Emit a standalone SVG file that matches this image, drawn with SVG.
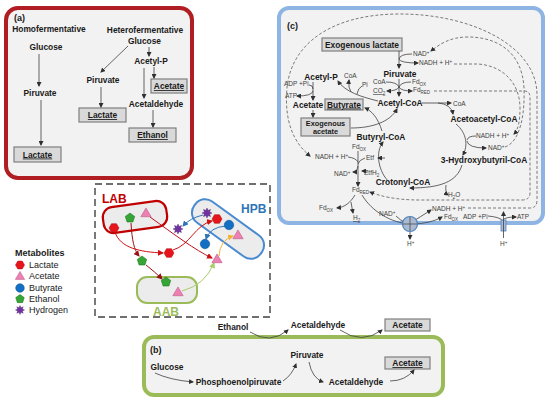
<svg xmlns="http://www.w3.org/2000/svg" width="550" height="404" viewBox="0 0 550 404">
<defs>
<style>
text{font-family:"Liberation Sans",Arial,sans-serif}
.t{font-weight:bold;font-size:8.4px;fill:#1a1a1a;text-anchor:middle}
.s{font-size:6.5px;fill:#404040}
.lb{font-weight:bold;font-size:9px;fill:#1a1a1a}
.lg{font-size:9px;fill:#1a1a1a}
.box{fill:#d9d9d9;stroke:#7f7f7f;stroke-width:1.2}
.ln{fill:none;stroke:#404040;stroke-width:0.8}
.lna{fill:none;stroke:#404040;stroke-width:0.8;marker-end:url(#ah)}
.dsh{fill:none;stroke:#5a5a5a;stroke-width:0.8;stroke-dasharray:3 2;marker-end:url(#ah)}
.panel{fill:#f2f2f2}
</style>
<marker id="ah" markerWidth="5" markerHeight="5" refX="4" refY="2.5" orient="auto" markerUnits="userSpaceOnUse"><path d="M0,0 L5,2.5 L0,5 z" fill="#303030"/></marker>
<marker id="ahR" markerWidth="6" markerHeight="6" refX="5" refY="3" orient="auto" markerUnits="userSpaceOnUse"><path d="M0,0 L6,3 L0,6 z" fill="#d01010"/></marker>
<marker id="ahD" markerWidth="6" markerHeight="6" refX="5" refY="3" orient="auto" markerUnits="userSpaceOnUse"><path d="M0,0 L6,3 L0,6 z" fill="#9a1010"/></marker>
<marker id="ahB" markerWidth="6" markerHeight="6" refX="5" refY="3" orient="auto" markerUnits="userSpaceOnUse"><path d="M0,0 L6,3 L0,6 z" fill="#2e75b6"/></marker>
<marker id="ahO" markerWidth="6" markerHeight="6" refX="5" refY="3" orient="auto" markerUnits="userSpaceOnUse"><path d="M0,0 L6,3 L0,6 z" fill="#f0b233"/></marker>
<marker id="ahG" markerWidth="6" markerHeight="6" refX="5" refY="3" orient="auto" markerUnits="userSpaceOnUse"><path d="M0,0 L6,3 L0,6 z" fill="#a6cf6a"/></marker>
<polygon id="hex" points="4.5,0 2.25,3.9 -2.25,3.9 -4.5,0 -2.25,-3.9 2.25,-3.9" fill="#e8141b" stroke="#a80d12" stroke-width="0.5"/>
<polygon id="tri" points="0,-4.6 4.7,3.4 -4.7,3.4" fill="#ee7fb3" stroke="#b8557f" stroke-width="0.5"/>
<circle id="cir" r="4.3" fill="#1370c4" stroke="#0d4f8e" stroke-width="0.5"/>
<polygon id="pen" points="0,-4.5 4.28,-1.39 2.65,3.64 -2.65,3.64 -4.28,-1.39" fill="#35a535" stroke="#1c701c" stroke-width="0.5"/>
<polygon id="star" points="4.5,0 2.31,0.96 3.18,3.18 0.96,2.31 0,4.5 -0.96,2.31 -3.18,3.18 -2.31,0.96 -4.5,0 -2.31,-0.96 -3.18,-3.18 -0.96,-2.31 0,-4.5 0.96,-2.31 3.18,-3.18 2.31,-0.96" fill="#7030a0" stroke="#4b1f6e" stroke-width="0.4"/>
</defs>
<rect width="550" height="404" fill="#ffffff"/>

<!-- ===== Panel (a) ===== -->
<g id="panel-a">
<rect x="6" y="8" width="186" height="170" rx="12" class="panel" stroke="#b01e23" stroke-width="4"/>
<text class="lb" x="14" y="21">(a)</text>
<g id="a-homo"><text class="t" x="49" y="32">Homofermentative</text></g>
<g id="a-glucose1"><text class="t" x="46" y="50">Glucose</text></g>
<g id="a-piruvate1"><text class="t" x="40" y="96">Piruvate</text></g>
<g id="a-lactate1"><rect class="box" x="14" y="147" width="47" height="15"/><text class="t" x="37.5" y="157.5" text-decoration="underline">Lactate</text></g>
<g id="a-hetero"><text class="t" x="145" y="33">Heterofermentative</text></g>
<g id="a-glucose2"><text class="t" x="144.5" y="44">Glucose</text></g>
<g id="a-piruvate2"><text class="t" x="103" y="83">Piruvate</text></g>
<g id="a-lactate2"><rect class="box" x="79" y="108" width="47" height="14"/><text class="t" x="102.5" y="118" text-decoration="underline">Lactate</text></g>
<g id="a-acetylp"><text class="t" x="151" y="64">Acetyl-P</text></g>
<g id="a-acetate"><rect class="box" x="151" y="79" width="36" height="14"/><text class="t" x="169" y="89" text-decoration="underline">Acetate</text></g>
<g id="a-acetaldehyde"><text class="t" x="156" y="107">Acetaldehyde</text></g>
<g id="a-ethanol"><rect class="box" x="129" y="128" width="47" height="14"/><text class="t" x="152.5" y="138" text-decoration="underline">Ethanol</text></g>
<g id="a-connectors">
<path class="lna" d="M39,54 L39,86"/>
<path class="lna" d="M41,100 L41,145"/>
<path class="lna" d="M128,46 L101,72"/>
<path class="lna" d="M101,87 L101,107"/>
<path class="lna" d="M149,47 L149,56"/>
<path class="lna" d="M154,67 L154,78"/>
<path class="lna" d="M144,68 L144,98"/>
<path class="lna" d="M153,110 L153,127"/>
</g>
</g>

<!-- ===== Panel (c) ===== -->
<g id="panel-c">
<rect x="279" y="8" width="264" height="215" rx="10" class="panel" stroke="#8eb4e3" stroke-width="4"/>
<text class="lb" x="287" y="29">(c)</text>
<g id="c-exo-lactate"><rect class="box" x="322" y="38" width="80" height="13"/><text class="t" x="362" y="47.5">Exogenous lactate</text></g>
<g id="c-piruvate"><text class="t" x="400" y="77">Piruvate</text></g>
<g id="c-acetylcoa"><text class="t" x="400" y="105.5">Acetyl-CoA</text></g>
<g id="c-acetylp"><text class="t" x="321" y="80">Acetyl-P</text></g>
<g id="c-acetate"><text class="t" x="308" y="108">Acetate</text></g>
<g id="c-butyrate"><rect class="box" x="325" y="99" width="38" height="11"/><text class="t" x="344" y="107.5" text-decoration="underline">Butyrate</text></g>
<g id="c-exo-acetate"><rect class="box" x="301" y="118" width="49" height="18"/><text class="t" x="325.5" y="125.5" style="font-size:7.3px">Exogenous</text><text class="t" x="325.5" y="133.5" style="font-size:7.3px">acetate</text></g>
<g id="c-butyrylcoa"><text class="t" x="381" y="140">Butyryl-CoA</text></g>
<g id="c-acetoacetylcoa"><text class="t" x="484" y="122">Acetoacetyl-CoA</text></g>
<g id="c-hydroxybutyrylcoa"><text class="t" x="484" y="163">3-Hydroxybutyril-CoA</text></g>
<g id="c-crotonylcoa"><text class="t" x="403" y="185">Crotonyl-CoA</text></g>

<g id="c-cofactors">
<text class="s" x="413" y="56">NAD<tspan dy="-2" font-size="4.5">+</tspan></text>
<text class="s" x="419" y="65">NADH + H<tspan dy="-2" font-size="4.5">+</tspan></text>
<text class="s" x="344" y="78">CoA</text>
<text class="s" x="362" y="87">Pi</text>
<text class="s" x="373" y="84">CoA</text>
<text class="s" x="373" y="93" text-decoration="underline">CO<tspan dy="1.5" font-size="4.5">2</tspan></text>
<text class="s" x="412" y="84">Fd<tspan dy="1.5" font-size="4.5">OX</tspan></text>
<text class="s" x="413" y="92">Fd<tspan dy="1.5" font-size="4.5">RED</tspan></text>
<text class="s" x="453" y="106">CoA</text>
<text class="s" x="284" y="86">ADP +Pi</text>
<text class="s" x="285" y="98">ATP</text>
<text class="s" x="476" y="138">NADH + H<tspan dy="-2" font-size="4.5">+</tspan></text>
<text class="s" x="488" y="150">NAD<tspan dy="-2" font-size="4.5">+</tspan></text>
<text class="s" x="448" y="197">H<tspan dy="1.5" font-size="4.5">2</tspan><tspan dy="-1.5">O</tspan></text>
<text class="s" x="352" y="149">Fd<tspan dy="1.5" font-size="4.5">OX</tspan></text>
<text class="s" x="315" y="159">NADH + H<tspan dy="-2" font-size="4.5">+</tspan></text>
<text class="s" x="366" y="160">Etf</text>
<text class="s" x="334" y="176">NAD<tspan dy="-2" font-size="4.5">+</tspan></text>
<text class="s" x="364" y="175">EtfH<tspan dy="1.5" font-size="4.5">2</tspan></text>
<text class="s" x="352" y="192">Fd<tspan dy="1.5" font-size="4.5">RED</tspan></text>
<text class="s" x="319" y="210">Fd<tspan dy="1.5" font-size="4.5">OX</tspan></text>
<text class="s" x="353" y="220" text-decoration="underline">H<tspan dy="1.5" font-size="4.5">2</tspan></text>
<text class="s" x="379" y="216">NAD<tspan dy="-2" font-size="4.5">+</tspan></text>
<text class="s" x="432" y="211">NADH + H<tspan dy="-2" font-size="4.5">+</tspan></text>
<text class="s" x="444" y="219">Fd<tspan dy="1.5" font-size="4.5">OX</tspan></text>
<text class="s" x="463" y="219">ADP +Pi</text>
<text class="s" x="517" y="219">ATP</text>
<text class="s" x="407" y="246">H<tspan dy="-2" font-size="4.5">+</tspan></text>
<text class="s" x="500" y="246">H<tspan dy="-2" font-size="4.5">+</tspan></text>
</g>

<g id="c-connectors">
<path class="dsh" d="M468,208 L530,208 Q537,208 537,200 L537,95 C537,45 470,14 400,14 C330,14 291,45 287,88 C284,122 294,143 310,156"/>
<path class="dsh" d="M505,147 C520,142 525,115 524,88 C522,50 495,37 468,37 C450,37 440,44 431,51"/>
<path class="dsh" d="M454,64 L478,64 C505,66 520,85 520,108 C520,122 518,130 514,134"/>
<path class="dsh" d="M434,91 L524,91 Q530,91 530,97 L530,193 Q530,200 522,200 L420,200 C395,200 380,196 370,192"/>

<path class="lna" d="M399,51 L399,68"/>
<path class="ln" d="M412,54 Q400,54 399,59"/>
<path class="lna" d="M399,59 Q400,63 418,63"/>
<path class="lna" d="M399,79 L399,96"/>
<path class="ln" d="M386,82 Q397,82 399,87"/>
<path class="lna" d="M399,87 Q397,91 387,91"/>
<path class="ln" d="M411,82 Q401,82 399,87"/>
<path class="lna" d="M399,87 Q401,91 412,91"/>
<path class="lna" d="M378,101 C362,97 345,92 338,81"/>
<path class="ln" d="M362,86 Q358,88 357,94"/>
<path class="lna" d="M351,92 Q348,88 349,80"/>
<path class="lna" d="M313,82 L313,100"/>
<path class="ln" d="M309,85 Q313,85 313,89"/>
<path class="lna" d="M313,91 Q312,96 297,96"/>
<path class="lna" d="M313,110 L313,117"/>
<path class="lna" d="M351,128 C372,128 390,122 397,109"/>
<path class="lna" d="M382,131 C378,118 372,111 365,108"/>
<path class="lna" d="M422,103 L451,103"/>
<path class="lna" d="M438,103 Q451,104 453,114"/>
<path class="lna" d="M456,124 C467,133 468,146 463,155"/>
<path class="ln" d="M476,136 Q468,136 467,140"/>
<path class="lna" d="M467,141 Q468,148 486,148"/>
<path class="lna" d="M462,165 C457,182 440,188 410,188"/>
<path class="lna" d="M446,185 Q445,193 448,195"/>
<path class="lna" d="M390,183 C378,172 375,152 383,142"/>
<path class="lna" d="M385,158 L378,158"/>
<path class="lna" d="M368,171 L362,171"/>
<path class="lna" d="M358,151 L358,186"/>
<path class="ln" d="M348,157 Q356,158 358,162"/>
<path class="ln" d="M365,158 Q359,160 358,164"/>
<path class="lna" d="M358,166 Q357,172 353,172"/>
<path class="lna" d="M355,195 C350,203 345,207 337,208"/>
<path class="lna" d="M351,202 Q352,208 353,213"/>
<path class="lna" d="M362,195 C372,212 392,223 410,224 C425,224 435,221 442,217"/>
<path class="lna" d="M396,216 Q405,225 412,222 Q420,217 431,210"/>
<path class="lna" d="M410,232 L410,239"/>
<path class="ln" d="M488,216 Q500,217 503,221"/>
<path class="lna" d="M503,220 Q505,217 516,217"/>
</g>
<g id="c-rnf">
<circle cx="410" cy="224" r="7.5" fill="#a9bad2" stroke="#4f81bd" stroke-width="1.2"/>
<path d="M410,217 L410,231 M403,224 L417,224" stroke="#404040" stroke-width="0.7"/>
</g>
<g id="c-atpase">
<rect x="501" y="220" width="5" height="11" fill="#a9bad2" stroke="#4f81bd" stroke-width="0.8"/>
<path class="lna" d="M503.5,238 L503.5,212"/>
</g>
</g>

<!-- ===== Centre scheme ===== -->
<g id="community">
<rect x="95" y="184" width="175" height="133" fill="#ffffff" stroke="#404040" stroke-width="1.4" stroke-dasharray="7 4"/>
<g id="lab">
<rect x="-32" y="-13" width="64" height="26" rx="10" transform="translate(135,217) rotate(-8)" fill="#ececec" stroke="#c00000" stroke-width="2.2"/>
<text x="102" y="203" font-weight="bold" font-size="12" fill="#c00000">LAB</text>
</g>
<g id="hpb">
<rect x="-41" y="-13" width="82" height="26" rx="12" transform="translate(228,229) rotate(36)" fill="#ececec" stroke="#4a8ad0" stroke-width="2"/>
<text x="241" y="213" font-weight="bold" font-size="12" fill="#2e75b6">HPB</text>
</g>
<g id="aab">
<rect x="137" y="277" width="60" height="26" rx="10" fill="#ececec" stroke="#9bbb59" stroke-width="2"/>
<text x="153" y="316" font-weight="bold" font-size="12" fill="#9bbb59">AAB</text>
</g>
<g id="community-arrows">
<path d="M131,223 C132,240 134,250 139,256" fill="none" stroke="#9a1010" stroke-width="1" marker-end="url(#ahD)"/>
<path d="M146,265 Q155,272 162,279" fill="none" stroke="#9a1010" stroke-width="1" marker-end="url(#ahD)"/>
<path d="M115,232 C120,248 140,252 163,253" fill="none" stroke="#d01010" stroke-width="1" marker-end="url(#ahR)"/>
<path d="M173,250 C190,245 195,225 212,221" fill="none" stroke="#d01010" stroke-width="1" marker-end="url(#ahR)"/>
<path d="M150,217 C175,235 195,250 212,258" fill="none" stroke="#c0101a" stroke-width="1" marker-end="url(#ahR)"/>
<path d="M203,215 Q190,218 183,226" fill="none" stroke="#2e75b6" stroke-width="1" marker-end="url(#ahB)"/>
<path d="M226,226 Q210,227 206,239" fill="none" stroke="#2e75b6" stroke-width="1" marker-end="url(#ahB)"/>
<path d="M219,256 Q220,240 233,236" fill="none" stroke="#f0b233" stroke-width="1" marker-end="url(#ahO)"/>
<path d="M182,291 Q205,285 214,263" fill="none" stroke="#a6cf6a" stroke-width="1" marker-end="url(#ahG)"/>
</g>
<g id="community-metabolites">
<use href="#hex" transform="translate(114,228) scale(1.1)"/>
<use href="#hex" transform="translate(169,253) scale(1.1)"/>
<use href="#hex" transform="translate(217,219) scale(1.1)"/>
<use href="#tri" transform="translate(146,213) scale(1.1)"/>
<use href="#tri" transform="translate(217,259) scale(1.1)"/>
<use href="#tri" transform="translate(178,292) scale(1.1)"/>
<use href="#tri" transform="translate(238,235) scale(1.1)"/>
<use href="#cir" transform="translate(229,225) scale(1.1)"/>
<use href="#cir" transform="translate(205,244) scale(1.1)"/>
<use href="#pen" transform="translate(130,218) scale(1.1)"/>
<use href="#pen" transform="translate(142,261) scale(1.1)"/>
<use href="#pen" transform="translate(166,282) scale(1.1)"/>
<use href="#star" transform="translate(207,213) scale(1.1)"/>
<use href="#star" transform="translate(178,229) scale(1.1)"/>
</g>
</g>

<!-- ===== Legend ===== -->
<g id="legend">
<text x="15" y="256" font-weight="bold" font-size="9" fill="#1a1a1a">Metabolites</text>
<use href="#hex" transform="translate(20,265)"/><text class="lg" x="29" y="268">Lactate</text>
<use href="#tri" transform="translate(20,276)"/><text class="lg" x="29" y="279">Acetate</text>
<use href="#cir" transform="translate(20,288)"/><text class="lg" x="29" y="291">Butyrate</text>
<use href="#pen" transform="translate(20,299)"/><text class="lg" x="29" y="302">Ethanol</text>
<use href="#star" transform="translate(20,310)"/><text class="lg" x="29" y="313">Hydrogen</text>
</g>

<!-- ===== Panel (b) ===== -->
<g id="panel-b">
<g id="b-ethanol"><text class="t" x="233" y="330">Ethanol</text></g>
<g id="b-acetaldehyde1"><text class="t" x="318" y="328">Acetaldehyde</text></g>
<g id="b-acetate1"><rect class="box" x="385" y="319" width="45" height="12"/><text class="t" x="407.5" y="328">Acetate</text></g>
<rect x="144" y="337" width="299" height="58" rx="10" class="panel" stroke="#9bbb59" stroke-width="4"/>
<text class="lb" x="150" y="353">(b)</text>
<g id="b-glucose"><text class="t" x="167" y="370">Glucose</text></g>
<g id="b-pep"><text class="t" x="238.5" y="385">Phosphoenolpiruvate</text></g>
<g id="b-piruvate"><text class="t" x="307" y="358">Piruvate</text></g>
<g id="b-acetaldehyde2"><text class="t" x="356" y="385">Acetaldehyde</text></g>
<g id="b-acetate2"><rect class="box" x="385" y="357" width="45" height="12"/><text class="t" x="407.5" y="366" text-decoration="underline">Acetate</text></g>
<g id="b-connectors">
<path class="lna" d="M250,332 Q270,345 288,330" stroke="#4b6a2e"/>
<path class="lna" d="M340,330 Q362,345 382,330" stroke="#4b6a2e"/>
<path class="lna" d="M155,373 Q170,380 193,382"/>
<path class="lna" d="M283,381 Q292,375 296,364"/>
<path class="lna" d="M309,362 Q312,378 323,382"/>
<path class="lna" d="M390,381 Q405,381 414,370"/>
</g>
</g>
</svg>
